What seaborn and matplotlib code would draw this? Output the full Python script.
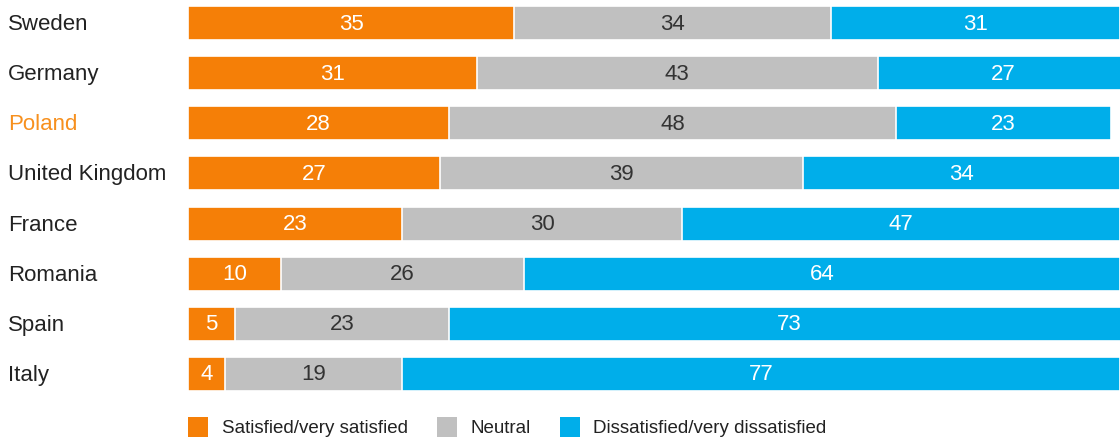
import matplotlib
matplotlib.use("Agg")
import matplotlib.pyplot as plt
from matplotlib.patches import Patch
from matplotlib.transforms import blended_transform_factory
import seaborn as sns
import pandas as pd

countries = ["Sweden", "Germany", "Poland", "United Kingdom", "France",
             "Romania", "Spain", "Italy"]
satisfied = [35, 31, 28, 27, 23, 10, 5, 4]
neutral = [34, 43, 48, 39, 30, 26, 23, 19]
dissatisfied = [31, 27, 23, 34, 47, 64, 73, 77]
series_names = ["Satisfied/very satisfied", "Neutral", "Dissatisfied/very dissatisfied"]

ORANGE = "#F57F07"
GREY = "#C0C0C0"
BLUE = "#00AEEA"
HIGHLIGHT = "#F7901E"

sns.set_theme(style="white")
plt.rcParams["font.family"] = ["Liberation Sans", "DejaVu Sans"]

df = pd.DataFrame({"country": countries, "sat": satisfied,
                   "neu": neutral, "dis": dissatisfied})
df["cum_neu"] = df["sat"] + df["neu"]
df["cum_dis"] = df["cum_neu"] + df["dis"]

fig = plt.figure(figsize=(11.2, 4.4), dpi=100)
ax = fig.add_axes([188 / 1120, 49 / 440, 932 / 1120, 385 / 440])

# stacked layers drawn back to front as cumulative totals
for col, color in [("cum_dis", BLUE), ("cum_neu", GREY), ("sat", ORANGE)]:
    sns.barplot(data=df, x=col, y="country", orient="h", color=color,
                width=0.68, edgecolor="white", linewidth=1.2,
                saturation=1, ax=ax, errorbar=None)

ax.set_xlim(0, 100)
ax.set_ylim(7.34, -0.34)
ax.set_xlabel("")
ax.set_ylabel("")
ax.set_xticks([])
ax.set_yticks([])
for s in ax.spines.values():
    s.set_visible(False)

FS = 16
# segment value labels
for i, row in df.iterrows():
    ax.text(row["sat"] / 2, i + 0.02, f"{row['sat']}", ha="center",
            va="center", color="white", fontsize=FS)
    ax.text(row["sat"] + row["neu"] / 2, i + 0.02, f"{row['neu']}",
            ha="center", va="center", color="#333333", fontsize=FS)
    ax.text(row["cum_neu"] + row["dis"] / 2, i + 0.02, f"{row['dis']}",
            ha="center", va="center", color="white", fontsize=FS)

# country names, left aligned
trans = blended_transform_factory(fig.transFigure, ax.transData)
for i, name in enumerate(countries):
    ax.text(8 / 1120, i + 0.03, name, transform=trans, ha="left",
            va="center", fontsize=FS,
            color=HIGHLIGHT if name == "Poland" else "#222222")

handles = [Patch(facecolor=c, edgecolor="none") for c in (ORANGE, GREY, BLUE)]
fig.legend(handles, series_names, loc="lower left",
           bbox_to_anchor=(188 / 1120, 3 / 440), ncol=3, frameon=False,
           fontsize=13.5, handlelength=1.07, handleheight=1.3,
           handletextpad=0.72, columnspacing=1.55, labelcolor="#222222",
           borderpad=0, borderaxespad=0)

fig.savefig("out.png", dpi=100)
